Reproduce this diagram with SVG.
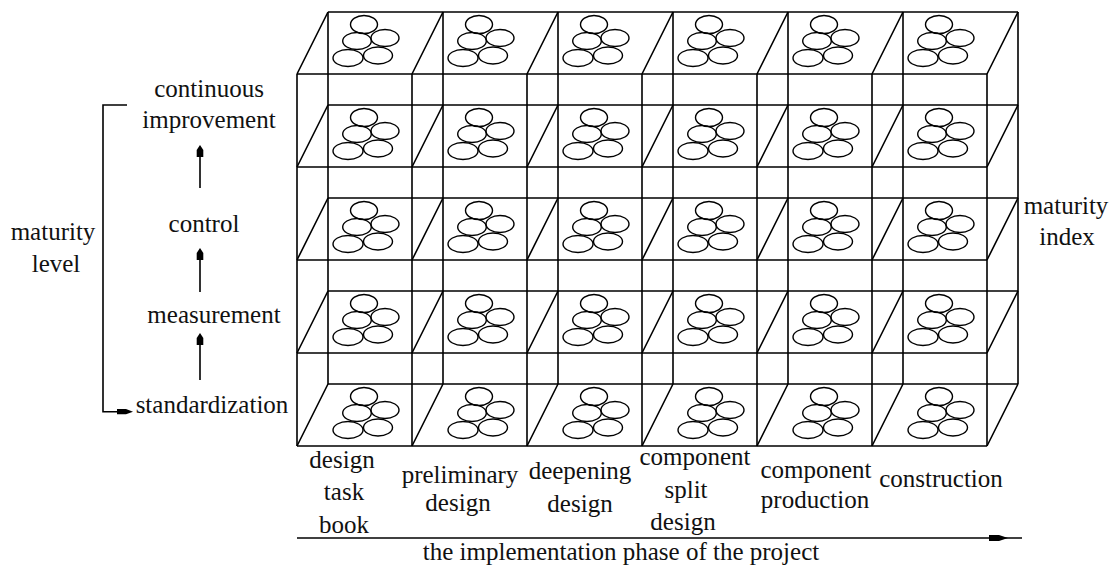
<svg xmlns="http://www.w3.org/2000/svg" xmlns:xlink="http://www.w3.org/1999/xlink" width="1114" height="568" viewBox="0 0 1114 568">
<style>
.ln{stroke:#000;stroke-width:1.6;fill:none}
.el{stroke:#000;stroke-width:1.4;fill:none}
.t{font-family:'Liberation Serif','Tinos','Times New Roman','DejaVu Serif',serif;font-size:25px;fill:#111;text-anchor:middle}
.ah{fill:#000;stroke:none}
</style>
<defs>
<g id="cl">
<ellipse class="el" cx="36" cy="12.5" rx="13.5" ry="9"/>
<ellipse class="el" cx="29" cy="29" rx="14.3" ry="8.5"/>
<ellipse class="el" cx="57" cy="26" rx="14" ry="8.5"/>
<ellipse class="el" cx="20" cy="46" rx="15" ry="8.5"/>
<ellipse class="el" cx="50" cy="43.5" rx="14.5" ry="8.5"/>
</g>
</defs>
<rect width="1114" height="568" fill="#fff"/>
<g id="grid" class="ln">
<path d="M328 12H1018M328 105H1018M328 198H1018M328 291H1018M328 384H1018"/>
<path d="M297 74H987M297 167H987M297 260H987M297 353H987M297 446H987"/>
<path d="M328 12V384M443 12V384M558 12V384M673 12V384M788 12V384M903 12V384M1018 12V384"/>
<path d="M297 74V446M412 74V446M527 74V446M642 74V446M757 74V446M872 74V446M987 74V446"/>
<path d="M297 74L328 12M412 74L443 12M527 74L558 12M642 74L673 12M757 74L788 12M872 74L903 12M987 74L1018 12"/>
<path d="M297 167L328 105M412 167L443 105M527 167L558 105M642 167L673 105M757 167L788 105M872 167L903 105M987 167L1018 105"/>
<path d="M297 260L328 198M412 260L443 198M527 260L558 198M642 260L673 198M757 260L788 198M872 260L903 198M987 260L1018 198"/>
<path d="M297 353L328 291M412 353L443 291M527 353L558 291M642 353L673 291M757 353L788 291M872 353L903 291M987 353L1018 291"/>
<path d="M297 446L328 384M412 446L443 384M527 446L558 384M642 446L673 384M757 446L788 384M872 446L903 384M987 446L1018 384"/>
</g>
<g id="row1">
<use id="c11" xlink:href="#cl" x="328" y="12"/><use id="c12" xlink:href="#cl" x="443" y="12"/><use id="c13" xlink:href="#cl" x="558" y="12"/><use id="c14" xlink:href="#cl" x="673" y="12"/><use id="c15" xlink:href="#cl" x="788" y="12"/><use id="c16" xlink:href="#cl" x="903" y="12"/>
</g>
<g id="row2">
<use id="c21" xlink:href="#cl" x="328" y="105"/><use id="c22" xlink:href="#cl" x="443" y="105"/><use id="c23" xlink:href="#cl" x="558" y="105"/><use id="c24" xlink:href="#cl" x="673" y="105"/><use id="c25" xlink:href="#cl" x="788" y="105"/><use id="c26" xlink:href="#cl" x="903" y="105"/>
</g>
<g id="row3">
<use id="c31" xlink:href="#cl" x="328" y="198"/><use id="c32" xlink:href="#cl" x="443" y="198"/><use id="c33" xlink:href="#cl" x="558" y="198"/><use id="c34" xlink:href="#cl" x="673" y="198"/><use id="c35" xlink:href="#cl" x="788" y="198"/><use id="c36" xlink:href="#cl" x="903" y="198"/>
</g>
<g id="row4">
<use id="c41" xlink:href="#cl" x="328" y="291"/><use id="c42" xlink:href="#cl" x="443" y="291"/><use id="c43" xlink:href="#cl" x="558" y="291"/><use id="c44" xlink:href="#cl" x="673" y="291"/><use id="c45" xlink:href="#cl" x="788" y="291"/><use id="c46" xlink:href="#cl" x="903" y="291"/>
</g>
<g id="row5">
<use id="c51" xlink:href="#cl" x="328" y="384"/><use id="c52" xlink:href="#cl" x="443" y="384"/><use id="c53" xlink:href="#cl" x="558" y="384"/><use id="c54" xlink:href="#cl" x="673" y="384"/><use id="c55" xlink:href="#cl" x="788" y="384"/><use id="c56" xlink:href="#cl" x="903" y="384"/>
</g>
<g id="levels">
<g id="lv-ci"><text class="t" x="209" y="97">continuous</text><text class="t" x="209" y="128">improvement</text></g>
<g id="lv-ctrl"><text class="t" x="204" y="232">control</text></g>
<g id="lv-meas"><text class="t" x="214" y="323">measurement</text></g>
<g id="lv-std"><text class="t" x="212" y="413">standardization</text></g>
<g id="lbl-ml"><text class="t" x="53" y="240">maturity</text><text class="t" x="56" y="272">level</text></g>
<g id="lbl-mi"><text class="t" x="1066" y="214">maturity</text><text class="t" x="1067" y="245">index</text></g>
</g>
<g id="phases">
<g id="ph1"><text class="t" x="342" y="468">design</text><text class="t" x="344" y="500">task</text><text class="t" x="344" y="533">book</text></g>
<g id="ph2"><text class="t" x="460" y="483">preliminary</text><text class="t" x="458" y="511">design</text></g>
<g id="ph3"><text class="t" x="580" y="479">deepening</text><text class="t" x="580" y="512">design</text></g>
<g id="ph4"><text class="t" x="695" y="465">component</text><text class="t" x="686" y="498">split</text><text class="t" x="683" y="530">design</text></g>
<g id="ph5"><text class="t" x="816" y="478">component</text><text class="t" x="815" y="508">production</text></g>
<g id="ph6"><text class="t" x="941" y="487">construction</text></g>
<g id="axis-label"><text class="t" x="621" y="560">the implementation phase of the project</text></g>
</g>
<g id="connectors">
<path class="ln" d="M200 157V188M200 260V292M200 345V380"/>
<polygon class="ah" points="200,145 203.3,150 203.3,157 196.7,157 196.7,150"/>
<polygon class="ah" points="200,248 203.3,253 203.3,260 196.7,260 196.7,253"/>
<polygon class="ah" points="200,333 203.3,338 203.3,345 196.7,345 196.7,338"/>
<path class="ln" d="M127 105H103V411.7H118"/>
<polygon class="ah" points="117,409 126,409 133,411.7 126,414.3 117,414.3"/>
<path class="ln" d="M297 538H1022"/>
<polygon class="ah" points="989,535 999,535 1008,538 999,541 989,541"/>
</g>
</svg>
